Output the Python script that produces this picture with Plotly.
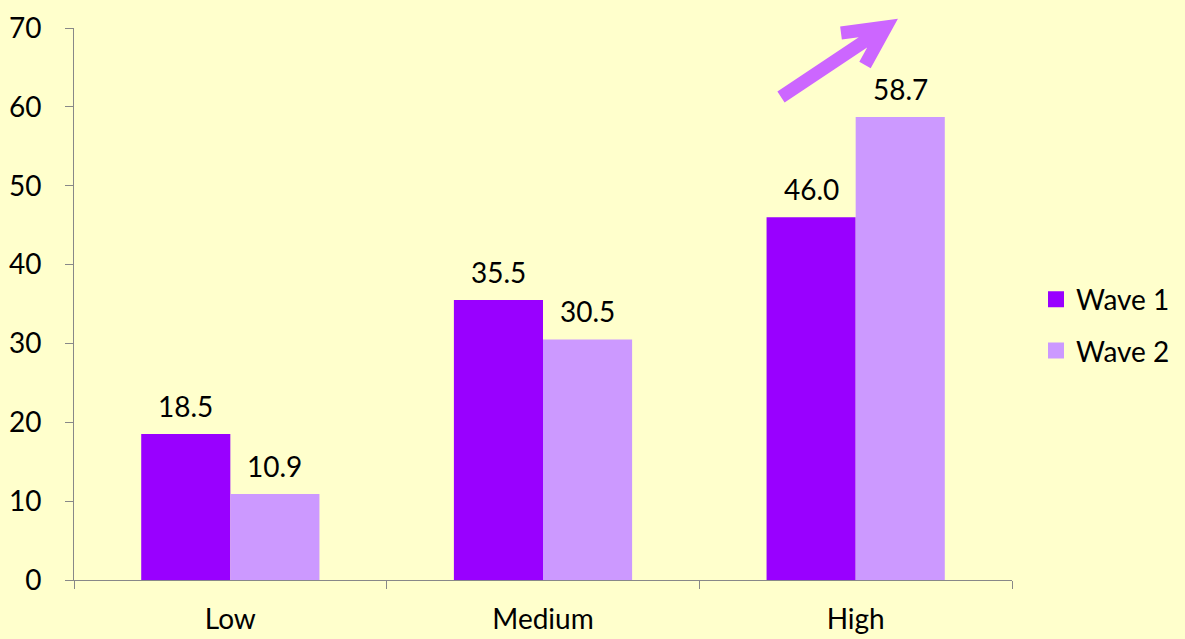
import plotly.graph_objects as go

categories = ["Low", "Medium", "High"]
wave1 = [18.5, 35.5, 46.0]
wave2 = [10.9, 30.5, 58.7]
series_names = ["Wave 1", "Wave 2"]
colors = ["#9900FF", "#CC99FF"]
y_ticks = [0, 10, 20, 30, 40, 50, 60, 70]

FONT = "Lato"
FS = 28
BG = "#FFFFCC"
W, H = 1185, 639
L, R, T, B = 74, 173, 28, 59
pw, ph = W - L - R, H - T - B
BARGAP = 0.43
bar_px = pw / len(categories) * (1 - BARGAP) / 2

def px(x):
    return (x - L) / pw

def py(y):
    return (H - B - y) / ph

fig = go.Figure()
for i, (name, vals, col) in enumerate(zip(series_names, [wave1, wave2], colors)):
    fig.add_trace(go.Bar(
        x=categories, y=vals, name=name, showlegend=False,
        marker=dict(color=col, line=dict(width=0)),
        cliponaxis=False,
    ))
    for c, v in zip(categories, vals):
        fig.add_annotation(
            x=c, y=v, text=f"{v:.1f}", showarrow=False,
            xanchor="center", yanchor="bottom",
            xshift=(i - 0.5) * bar_px, yshift=9,
            font=dict(family=FONT, size=FS, color="black"),
        )
# legend entries with larger square swatches
for i, (name, col) in enumerate(zip(series_names, colors)):
    fig.add_trace(go.Scatter(
        x=[None], y=[None], mode="markers", name=name,
        marker=dict(symbol="square", size=17, color=col),
        legendgroup=f"g{i}", showlegend=True,
    ))

# decorative arrow (pixel-based, paper coords)
tail = (781, 97); tip = (886, 27); arm1 = (841, 33); arm2 = (865, 65)
path = (f"M {px(tail[0])},{py(tail[1])} L {px(tip[0])},{py(tip[1])} "
        f"M {px(arm1[0])},{py(arm1[1])} L {px(tip[0])},{py(tip[1])} L {px(arm2[0])},{py(arm2[1])}")
fig.add_shape(type="path", path=path, xref="paper", yref="paper",
              line=dict(color="#CC66FF", width=13))

fig.update_layout(
    width=W, height=H,
    margin=dict(l=L, r=R, t=T, b=B, autoexpand=False),
    paper_bgcolor=BG, plot_bgcolor=BG,
    barmode="group", bargap=BARGAP, bargroupgap=0,
    font=dict(family=FONT, size=FS, color="black"),
    showlegend=True,
    legend=dict(xref="container", yref="container",
                x=1036 / W, y=(H - 325) / H, xanchor="left", yanchor="middle",
                font=dict(family=FONT, size=FS), bgcolor="rgba(0,0,0,0)",
                itemwidth=30, tracegroupgap=12),
    xaxis=dict(showline=True, linecolor="#888888", linewidth=1,
               ticks="outside", ticklen=8, tickcolor="#888888",
               tickson="boundaries", tickfont=dict(family=FONT, size=FS),
               showgrid=False, zeroline=False, ticklabelstandoff=14,
               automargin=False),
    yaxis=dict(range=[0, 70], tickvals=y_ticks, showline=True, linecolor="#888888",
               linewidth=1, ticks="outside", ticklen=8, tickcolor="#888888",
               tickfont=dict(family=FONT, size=FS), showgrid=False, zeroline=False,
               ticklabelstandoff=18, automargin=False),
)

post = ("document.body.style.margin='0';document.body.style.padding='0';"
        "document.body.style.background='" + BG + "';"
        "document.documentElement.style.background='" + BG + "';"
        "document.body.style.overflow='hidden';")

fig.write_html("out.html", post_script=post, config={"displayModeBar": False})
